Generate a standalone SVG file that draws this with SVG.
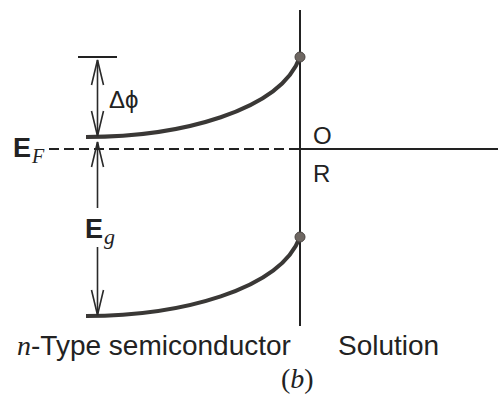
<svg xmlns="http://www.w3.org/2000/svg" width="498" height="396" viewBox="0 0 498 396">
<style>
.ln{stroke:#222;stroke-width:2;fill:none}
.band{stroke:#3a3836;stroke-width:4;fill:none;stroke-linecap:butt}
.arr{stroke:#2a2a2a;stroke-width:1.6;fill:none}
.dot{fill:#6e6762;stroke:#4a4542;stroke-width:1}
.sans{font-family:"Liberation Sans",Arial,sans-serif;fill:#222}
.serif{font-family:"Liberation Serif","Times New Roman",serif;fill:#222}
</style>
<defs>
<marker id="vh" viewBox="0 0 25 12" refX="25" refY="6" markerWidth="25" markerHeight="12" markerUnits="userSpaceOnUse" orient="auto-start-reverse" overflow="visible">
<path d="M0,0 L25,6 L0,12" fill="none" stroke="#2a2a2a" stroke-width="1.6"/>
</marker>
</defs>
<g id="interface">
<line class="ln" x1="300" y1="10" x2="300" y2="326"/>
<line class="ln" x1="300" y1="149" x2="498" y2="149"/>
</g>
<g id="fermi-level">
<line class="ln" x1="49" y1="149" x2="300" y2="149" stroke-dasharray="10 5"/>
</g>
<g id="conduction-band">
<path class="band" d="M86,137 C180,137 280,111 300,57"/>
<circle class="dot" cx="300" cy="57" r="5"/>
</g>
<g id="valence-band">
<path class="band" d="M86,316 C180,316 280,290 300,237"/>
<circle class="dot" cx="300" cy="237" r="5"/>
</g>
<g id="connectors">
<line class="ln" x1="78" y1="57" x2="117" y2="57"/>
<path class="arr" d="M97.5,60 V136" marker-start="url(#vh)" marker-end="url(#vh)"/>
<path class="arr" d="M97.5,142 V208" marker-start="url(#vh)"/>
<path class="arr" d="M97.5,247 V315" marker-end="url(#vh)"/>
</g>
<g id="labels">
<text class="sans" x="109" y="108" font-size="24">Δϕ</text>
<text x="13" y="157"><tspan class="sans" font-size="27" font-weight="bold">E</tspan><tspan class="serif" font-size="20" font-style="italic" dx="1" dy="6">F</tspan></text>
<text x="85" y="238"><tspan class="sans" font-size="27" font-weight="bold">E</tspan><tspan class="serif" font-size="22" font-style="italic" dx="1" dy="6">g</tspan></text>
<text class="sans" x="313" y="144" font-size="24">O</text>
<text class="sans" x="313" y="182" font-size="24">R</text>
<text x="17" y="355" font-size="28"><tspan class="serif" font-style="italic">n</tspan><tspan class="sans">-Type semiconductor</tspan></text>
<text class="sans" x="338" y="355" font-size="28">Solution</text>
<text class="serif" x="281" y="388" font-size="28">(<tspan font-style="italic">b</tspan>)</text>
</g>
</svg>
